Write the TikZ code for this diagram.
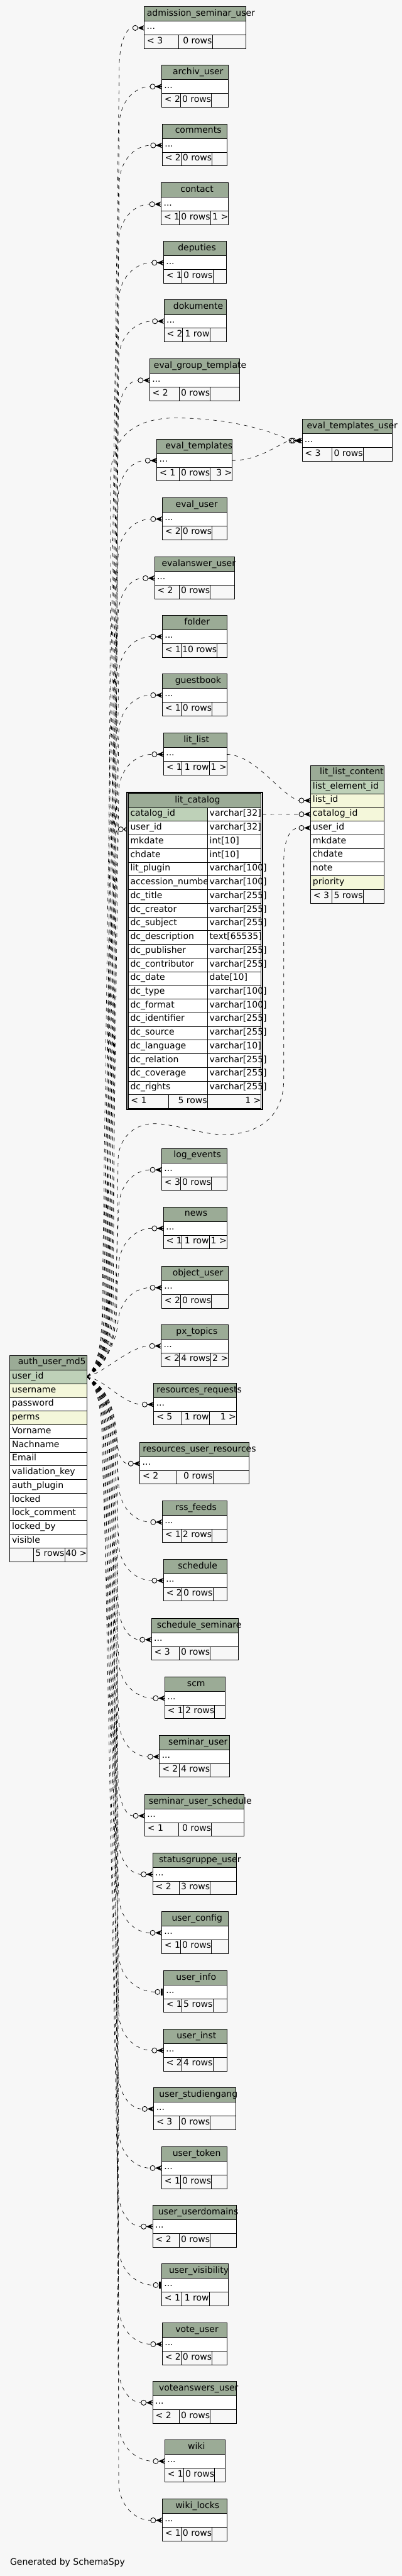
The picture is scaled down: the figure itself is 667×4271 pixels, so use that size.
\documentclass[tikz,border=0pt]{standalone}
\usepackage{fontspec}
\setmainfont{DejaVu Sans}
\definecolor{bgc}{HTML}{F7F7F7}
\definecolor{hdr}{HTML}{9BAB96}
\definecolor{pkc}{HTML}{BED1B8}
\definecolor{idx}{HTML}{F4F7DA}
\tikzset{
  cell/.style={draw=black,line width=0.9pt},
  txt/.style={inner sep=0pt,anchor=base west,font=\fontsize{14.6}{17}\selectfont},
  txte/.style={txt,anchor=base east},
  rel/.style={draw=black,line width=0.7pt,dash pattern=on 6pt off 7pt},
  mk/.style={draw=black,line width=0.9pt},
}
\newif\iftee
\newcommand\crowat[2]{%
  \draw[mk] ({#1-15},{#2}) circle (4.2);
  \fill ({#1-10.8},{#2}) -- (#1,{#2-4.6}) -- ({#1-3.2},{#2}) -- (#1,{#2+4.6}) -- cycle;
  \draw[mk] ({#1-10.8},{#2}) -- (#1,{#2});}
\newcommand\teeat[2]{%
  \draw[mk] ({#1-9.8},{#2}) circle (4.2);
  \fill ({#1-4.3},{#2-5.5}) rectangle ({#1-1},{#2+5.5});}
% #1 name, #2 L, #3 T, #4 R, #5 title x, #6 split1, #7 split2, #8 foot1, #9 foot2
\newcommand\stab[9]{%
  \fill[hdr] (#2,#3) rectangle (#4,{#3+24});
  \fill[white] (#2,{#3+24}) rectangle (#4,{#3+46.7});
  \draw[cell] (#2,#3) rectangle (#4,{#3+69.3});
  \draw[cell] (#2,{#3+24}) -- (#4,{#3+24});
  \draw[cell] (#2,{#3+46.7}) -- (#4,{#3+46.7});
  \draw[cell] (#6,{#3+46.7}) -- (#6,{#3+69.3});
  \draw[cell] (#7,{#3+46.7}) -- (#7,{#3+69.3});
  \node[txt] (#1-t) at (#5,{#3+15.3}) {#1};
  \node[txt] (#1-r) at ({#2+4},{#3+37.8}) {...};
  \node[txt] (#1-f1) at ({#2+4.5},{#3+61}) {#8};
  \node[txte] (#1-f2) at ({#7-0.5},{#3+61}) {#9};
  \iftee
    \teeat{#2}{#3+35.3}\coordinate (#1-e) at ({#2-14},{#3+35.3});
  \else
    \crowat{#2}{#3+35.3}\coordinate (#1-e) at ({#2-19.2},{#3+35.3});
  \fi}
\newcommand\fthree[4]{\node[txte] (#1-f3) at (#2,{#3+61}) {#4};}
% connectors from auth_user_md5.user_id
\newcommand\relup[5]{%
  \draw[rel] (auth-uid) .. controls ({(#2+150)/2},2266) and (#2,2240) .. (#2,2150) -- (#3,{#4+65}) .. controls (#3,{#4+25}) and ({(#3+#5)/2},{#4}) .. (#1-e);}
\newcommand\reldn[5]{%
  \draw[rel] (auth-uid) .. controls ({(#2+150)/2},2299) and (#2,2325) .. (#2,2415) -- (#3,{#4-65}) .. controls (#3,{#4-25}) and ({(#3+#5)/2},{#4}) .. (#1-e);}
\begin{document}
\catcode`\_=12
\begin{tikzpicture}[x=1pt,y=-1pt]
\useasboundingbox (0,0) rectangle (667,4271);
\fill[bgc] (0,0) rectangle (667,4271);

% ---------------- small tables
\stab{admission_seminar_user}{239.5}{11}{408.4}{243.7}{296.5}{352.6}{< 3}{0 rows}
\stab{archiv_user}{268.4}{108.3}{379}{286.7}{299.5}{351.3}{< 2}{0 rows}
\stab{comments}{269.3}{205.7}{377.3}{290.5}{300.3}{352.2}{< 2}{0 rows}
\stab{contact}{267.5}{303.3}{379}{299.5}{297.8}{349.6}{< 1}{0 rows}
\fthree{contact}{379}{303.3}{1 >}
\stab{deputies}{271.4}{400.3}{375.6}{295.2}{301.6}{353.5}{< 1}{0 rows}
\stab{dokumente}{272.2}{497.3}{375.6}{287.5}{303.3}{348.4}{< 2}{1 row}
\stab{eval_group_template}{248.4}{595.3}{397.3}{255.2}{297.3}{349.2}{< 2}{0 rows}
\stab{eval_templates_user}{501.5}{695.3}{651.2}{509.2}{551.3}{603.1}{< 3}{0 rows}
\stab{eval_templates}{260.3}{728.3}{385.4}{274.4}{297.3}{349.2}{< 1}{0 rows}
\fthree{eval_templates}{385.4}{728.3}{3 >}
\stab{eval_user}{269.3}{825.3}{376.4}{291.4}{300.3}{352.2}{< 2}{0 rows}
\stab{evalanswer_user}{256.5}{923.3}{389.2}{268.4}{297.3}{349.2}{< 2}{0 rows}
\stab{folder}{269.3}{1020.3}{377.3}{305.8}{300.3}{360.7}{< 1}{10 rows}
\stab{guestbook}{269.3}{1117.3}{377.3}{290.5}{300.3}{352.2}{< 1}{0 rows}
\stab{lit_list}{271.4}{1215.3}{376.4}{304.6}{301.6}{347.5}{< 1}{1 row}
\fthree{lit_list}{376.4}{1215.3}{1 >}
\stab{log_events}{268.4}{1904.3}{377.3}{288}{299.5}{351.3}{< 3}{0 rows}
\stab{news}{271.4}{2001.3}{376.4}{306.3}{301.6}{347.5}{< 1}{1 row}
\fthree{news}{376.4}{2001.3}{1 >}
\stab{object_user}{268.4}{2099.7}{379}{286.3}{299.5}{351.3}{< 2}{0 rows}
\stab{px_topics}{267.5}{2196.3}{379}{292.2}{297.8}{349.6}{< 2}{4 rows}
\fthree{px_topics}{379}{2196.3}{2 >}
\stab{resources_requests}{255.2}{2293.3}{392.2}{259.9}{301.6}{347.5}{< 5}{1 row}
\fthree{resources_requests}{392.2}{2293.3}{1 >}
\stab{resources_user_resources}{232.2}{2391.3}{413}{236.9}{293.5}{353.5}{< 2}{0 rows}
\stab{rss_feeds}{269.3}{2488.3}{376.4}{291}{300.3}{352.2}{< 1}{2 rows}
\stab{schedule}{271.4}{2585.3}{376.4}{295.2}{301.6}{353.5}{< 2}{0 rows}
\stab{schedule_seminare}{251.4}{2683.3}{395.6}{260.3}{297.3}{349.2}{< 3}{0 rows}
\stab{scm}{273.5}{2780.3}{373.5}{310.5}{304.6}{356.4}{< 1}{2 rows}
\stab{seminar_user}{264.6}{2877.3}{381.5}{279.5}{297.3}{349.2}{< 2}{4 rows}
\stab{seminar_user_schedule}{240.3}{2975.3}{405.4}{246.7}{296.5}{351.3}{< 1}{0 rows}
\stab{statusgruppe_user}{253.5}{3072.3}{392.2}{263.7}{297.3}{349.2}{< 2}{3 rows}
\stab{user_config}{268.4}{3169.3}{379}{285}{299.5}{351.3}{< 1}{0 rows}
\teetrue
\stab{user_info}{271.4}{3267.3}{376.4}{292.2}{301.6}{353.5}{< 1}{5 rows}
\teefalse
\stab{user_inst}{271.4}{3364.3}{376.4}{293.1}{301.6}{353.5}{< 2}{4 rows}
\stab{user_studiengang}{255.2}{3461.3}{391.3}{264.1}{297.3}{349.2}{< 3}{0 rows}
\stab{user_token}{268.4}{3559.3}{377.3}{286.3}{299.5}{351.3}{< 1}{0 rows}
\stab{user_userdomains}{253.5}{3656.3}{392.2}{262.4}{297.3}{349.2}{< 2}{0 rows}
\teetrue
\stab{user_visibility}{268.4}{3753.3}{379}{280.3}{301.6}{347.5}{< 1}{1 row}
\teefalse
\stab{vote_user}{269.3}{3851.3}{376.4}{291}{300.3}{352.2}{< 2}{0 rows}
\stab{voteanswers_user}{253.5}{3948.3}{392.2}{263.7}{297.3}{349.2}{< 2}{0 rows}
\stab{wiki}{273.5}{4045.3}{373.5}{311.8}{304.6}{356.4}{< 1}{0 rows}
\stab{wiki_locks}{269.3}{4143.3}{377.3}{291}{300.3}{352.2}{< 1}{0 rows}

% ---------------- lit_catalog (focus table)
\filldraw[fill=white,draw=black,line width=1.8pt] (210.5,1313.9) rectangle (435.8,1839.5);
\fill[hdr] (212.7,1315.7) rectangle (433.4,1339);
\node[txt] (lc-t) at (290.1,1331) {lit_catalog};
\foreach \a/\b [count=\i] in {catalog_id/varchar[32],user_id/varchar[32],mkdate/int[10],chdate/int[10],lit_plugin/varchar[100],accession_number/varchar[100],dc_title/varchar[255],dc_creator/varchar[255],dc_subject/varchar[255],dc_description/text[65535],dc_publisher/varchar[255],dc_contributor/varchar[255],dc_date/date[10],dc_type/varchar[100],dc_format/varchar[100],dc_identifier/varchar[255],dc_source/varchar[255],dc_language/varchar[10],dc_relation/varchar[255],dc_coverage/varchar[255],dc_rights/varchar[255]} {
  \pgfmathsetmacro\yt{1339+22.67*(\i-1)}
  \ifnum\i=1 \fill[pkc] (212.7,\yt) rectangle (344.5,{\yt+22.67}); \fi
  \node[txt] (lc-n\i) at (216.2,{\yt+14.3}) {\a};
  \fill[white] (344.5,\yt) rectangle (433.4,{\yt+22.67});
  \node[txt] (lc-y\i) at (347.8,{\yt+14.3}) {\b};
  \draw[cell] (212.7,\yt) -- (433.4,\yt);
}
\fill[bgc] (212.7,1815.1) rectangle (433.4,1837.8);
\draw[cell] (212.7,1815.1) -- (433.4,1815.1);
\draw[cell] (344.5,1339) -- (344.5,1837.8);
\draw[cell] (279.5,1815.1) -- (279.5,1837.8);
\node[txt] (lc-f1) at (217.2,1829.4) {< 1};
\node[txte] (lc-f2) at (344,1829.4) {5 rows};
\node[txte] (lc-f3) at (433.4,1829.4) {1 >};
\draw[cell] (212.7,1315.7) rectangle (433.4,1837.8);
\draw[black,line width=1.8pt] (210.5,1313.9) rectangle (435.8,1839.5);

% ---------------- lit_list_content
\fill[hdr] (515.5,1269.3) rectangle (637.2,1293.3);
\node[txt] (llc-t) at (530.8,1284.6) {lit_list_content};
\foreach \a/\c [count=\i] in {list_element_id/pkc,list_id/idx,catalog_id/idx,user_id/white,mkdate/white,chdate/white,note/white,priority/idx} {
  \pgfmathsetmacro\yt{1293.3+22.67*(\i-1)}
  \fill[fill=\c] (515.5,\yt) rectangle (637.2,{\yt+22.67});
  \node[txt] (llc-\i) at (519,{\yt+14.3}) {\a};
  \draw[cell] (515.5,\yt) -- (637.2,\yt);
}
\draw[cell] (515.5,1474.7) -- (637.2,1474.7);
\draw[cell] (551.3,1474.7) -- (551.3,1497.3);
\draw[cell] (603.1,1474.7) -- (603.1,1497.3);
\node[txt] (llc-f1) at (520,1489) {< 3};
\node[txte] (llc-f2) at (602.6,1489) {5 rows};
\draw[cell] (515.5,1269.3) rectangle (637.2,1497.3);

% ---------------- auth_user_md5
\fill[hdr] (16.6,2247.3) rectangle (144.6,2271.7);
\node[txt] (au-t) at (29.8,2262.6) {auth_user_md5};
\foreach \a/\c [count=\i] in {user_id/pkc,username/idx,password/white,perms/idx,Vorname/white,Nachname/white,Email/white,validation_key/white,auth_plugin/white,locked/white,lock_comment/white,locked_by/white,visible/white} {
  \pgfmathsetmacro\yt{2271.7+22.67*(\i-1)}
  \fill[fill=\c] (16.6,\yt) rectangle (144.6,{\yt+22.67});
  \node[txt] (au-\i) at (19.8,{\yt+14.3}) {\a};
  \draw[cell] (16.6,\yt) -- (144.6,\yt);
}
\draw[cell] (16.6,2566.4) -- (144.6,2566.4);
\draw[cell] (55.3,2566.4) -- (55.3,2589.1);
\draw[cell] (107.6,2566.4) -- (107.6,2589.1);
\node[txte] (au-f2) at (107.1,2580.7) {5 rows};
\node[txte] (au-f3) at (144.6,2580.7) {40 >};
\draw[cell] (16.6,2247.3) rectangle (144.6,2589.1);

\node[txt] (gen) at (16.6,4252.3) {Generated by SchemaSpy};

% ---------------- anchor coordinates
\coordinate (auth-uid) at (144.6,2282.5);
\coordinate (lc-cat) at (436,1350.3);
\coordinate (lc-user-e) at (196.3,1375);
\coordinate (llc-list-e) at (496.3,1327.3);
\coordinate (llc-cat-e) at (496.3,1350);
\coordinate (llc-user-e) at (496.3,1372.7);
\coordinate (et-out) at (385.4,763.6);
\coordinate (etu-e2) at (479.8,730.6);
\coordinate (ll-out) at (376.4,1250.6);

% markers on lit_list_content, lit_catalog, eval_templates_user (second edge)
\crowat{515.5}{1327.3}
\crowat{515.5}{1350}
\crowat{515.5}{1372.7}
\crowat{499}{730.6}
\draw[mk] (200.5,1375) circle (4.2);
\fill (204.7,1375) -- (210,1370.4) -- (207.2,1375) -- (210,1379.6) -- cycle;

% ---------------- connectors
\relup{admission_seminar_user}{170}{198}{46.3}{220.3}
\relup{archiv_user}{173}{198}{143.6}{249.2}
\relup{comments}{176}{198}{241}{250.1}
\relup{contact}{179}{197}{338.6}{248.3}
\relup{deputies}{182}{197}{435.6}{252.2}
\relup{dokumente}{185}{197}{532.6}{253}
\relup{eval_group_template}{188}{196}{630.6}{229.2}
\relup{eval_templates}{171}{196}{763.6}{241.1}
\relup{eval_user}{174}{196}{860.6}{250.1}
\relup{evalanswer_user}{177}{196}{958.6}{237.3}
\relup{folder}{180}{197}{1055.6}{250.1}
\relup{guestbook}{183}{197}{1152.6}{250.1}
\relup{lit_list}{186}{197}{1250.6}{252.2}
\relup{log_events}{191}{197}{1939.6}{249.2}
\relup{news}{194}{197}{2036.6}{252.2}

\reldn{rss_feeds}{194}{197}{2523.6}{250.1}
\reldn{schedule}{191}{197}{2620.6}{252.2}
\reldn{schedule_seminare}{188}{196}{2718.6}{232.2}
\reldn{scm}{185}{197}{2815.6}{254.3}
\reldn{seminar_user}{182}{197}{2912.6}{245.4}
\reldn{seminar_user_schedule}{179}{196}{3010.6}{221.1}
\reldn{statusgruppe_user}{176}{196}{3107.6}{234.3}
\reldn{user_config}{173}{197}{3204.6}{249.2}
\reldn{user_info}{170}{197}{3302.6}{257.4}
\reldn{user_inst}{184}{197}{3399.6}{252.2}
\reldn{user_studiengang}{181}{196}{3496.6}{236}
\reldn{user_token}{178}{197}{3594.6}{249.2}
\reldn{user_userdomains}{175}{196}{3691.6}{234.3}
\reldn{user_visibility}{172}{197}{3788.6}{254.4}
\reldn{vote_user}{187}{197}{3886.6}{250.1}
\reldn{voteanswers_user}{189}{196}{3983.6}{234.3}
\reldn{wiki}{192}{197}{4080.6}{254.3}
\reldn{wiki_locks}{195}{197}{4178.6}{250.1}

\draw[rel] (auth-uid) .. controls (172,2262) and (193,2230) .. (196,2190) .. controls (199,2160) and (220,2135) .. (object_user-e);
\draw[rel] (auth-uid) .. controls (175,2275) and (215,2232) .. (px_topics-e);
\draw[rel] (auth-uid) .. controls (175,2288) and (205,2328.6) .. (resources_requests-e);
\draw[rel] (auth-uid) .. controls (170,2300) and (192,2360) .. (195,2395) .. controls (197,2415) and (203,2426.6) .. (resources_user_resources-e);

\draw[rel] (auth-uid) .. controls (165,2266) and (178,2240) .. (178,2150) -- (184,790) .. controls (184,715) and (235,692) .. (295,693) .. controls (380,694) and (445,712) .. (eval_templates_user-e);
\draw[rel] (et-out) .. controls (430,763) and (460,738) .. (etu-e2);
\draw[rel] (ll-out) .. controls (425,1252) and (465,1318) .. (llc-list-e);
\draw[rel] (lc-cat) -- (llc-cat-e);
\draw[rel] (auth-uid) .. controls (166,2266) and (181,2240) .. (181,2150) -- (189,1420) .. controls (191,1395) and (190,1378) .. (lc-user-e);
\draw[rel] (auth-uid) .. controls (172,2266) and (193,2240) .. (193,2150) -- (196,1925) .. controls (196,1885) and (225,1862) .. (258,1863) .. controls (295,1864) and (335,1882) .. (375,1881) .. controls (425,1880) and (471,1855) .. (471,1790) -- (471,1430) .. controls (471,1395) and (480,1372.7) .. (llc-user-e);
\end{tikzpicture}
\end{document}
